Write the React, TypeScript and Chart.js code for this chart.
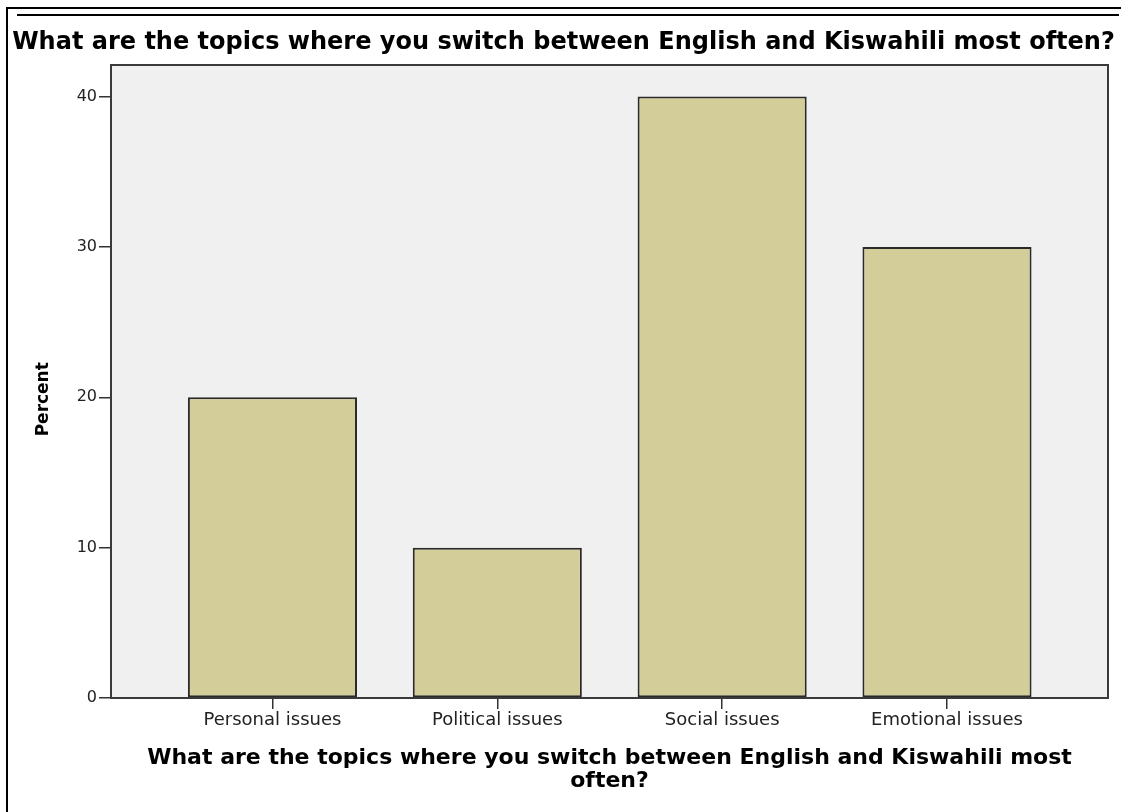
import React, { useEffect, useRef } from "react";
import { Chart, registerables } from "chart.js";

Chart.register(...registerables);

// ---- data ----
const CATEGORIES = ["Personal issues", "Political issues", "Social issues", "Emotional issues"];
const PERCENT = [20, 10, 40, 30];
const Y_TICKS = [0, 10, 20, 30, 40];
const CHART_TITLE = "What are the topics where you switch between English and Kiswahili most often?";
const X_TITLE = ["What are the topics where you switch between English and Kiswahili most", "often?"];
const Y_TITLE = "Percent";

const W = 1121;
const H = 812;

const plotFrame = {
  id: "plotFrame",
  beforeDraw(chart: any) {
    const { ctx, chartArea: a } = chart;
    ctx.save();
    ctx.fillStyle = "#f0f0f0";
    ctx.fillRect(a.left, a.top, a.right - a.left, a.bottom - a.top);
    ctx.restore();
  },
  afterDatasetsDraw(chart: any) {
    const { ctx, chartArea: a } = chart;
    ctx.save();
    ctx.strokeStyle = "#3a3a3a";
    ctx.lineWidth = 2;
    ctx.strokeRect(a.left, a.top, a.right - a.left, a.bottom - a.top);
    ctx.restore();
  },
};

export default function App() {
  const ref = useRef<HTMLCanvasElement | null>(null);

  useEffect(() => {
    if (!ref.current) return;
    const chart = new Chart(ref.current, {
      type: "bar",
      data: {
        datasets: [
          {
            label: Y_TITLE,
            data: PERCENT.map((v, i) => ({ x: i, y: v })),
            backgroundColor: "#d3ce99",
            borderColor: "#2a2a2a",
            borderWidth: 2,
            borderSkipped: false,
            barPercentage: 0.752,
            categoryPercentage: 1,
          },
        ],
      },
      plugins: [plotFrame],
      options: {
        responsive: false,
        animation: false,
        layout: { padding: { left: 6, right: 0, top: 0, bottom: 0 } },
        plugins: {
          legend: { display: false },
          tooltip: { enabled: false },
          title: {
            display: true,
            text: CHART_TITLE,
            color: "#000",
            font: { family: "'DejaVu Sans'", size: 24, weight: "bold", lineHeight: 1.2 },
            padding: { top: 28, bottom: 8.2 },
          },
        },
        scales: {
          x: {
            type: "linear",
            offset: false,
            min: -0.718,
            max: 3.716,
            afterBuildTicks: (s: any) => {
              s.ticks = CATEGORIES.map((_, i) => ({ value: i }));
            },
            afterFit: (s: any) => {
              s.height = 114;
            },
            ticks: {
              callback: (v: any) => CATEGORIES[v] ?? "",
              color: "#222",
              font: { family: "'DejaVu Sans'", size: 18 },
              padding: 1,
              maxRotation: 0,
              autoSkip: false,
            },
            grid: {
              offset: false,
              drawOnChartArea: false,
              drawTicks: true,
              tickLength: 11,
              color: "#333",
              lineWidth: 1.5,
            },
            border: { display: false },
            title: {
              display: true,
              text: X_TITLE,
              color: "#000",
              font: { family: "'DejaVu Sans'", size: 22, weight: "bold", lineHeight: 1.05 },
              padding: { top: 0, bottom: 19.5 },
            },
          },
          y: {
            type: "linear",
            min: 0,
            max: 42.1,
            afterBuildTicks: (s: any) => {
              s.ticks = Y_TICKS.map((v) => ({ value: v }));
            },
            afterFit: (s: any) => {
              s.width = 105;
            },
            ticks: {
              color: "#222",
              font: { family: "'DejaVu Sans'", size: 16 },
              padding: 2,
            },
            grid: {
              drawOnChartArea: false,
              drawTicks: true,
              tickLength: 12,
              color: "#333",
              lineWidth: 1.5,
            },
            border: { display: false },
            title: {
              display: true,
              text: Y_TITLE + "      ",
              color: "#000",
              font: { family: "'DejaVu Sans'", size: 17, weight: "bold", lineHeight: 1.2 },
              padding: { top: 27, bottom: 0 },
            },
          },
          yRight: {
            type: "linear",
            position: "right",
            display: true,
            afterFit: (s: any) => {
              s.width = 13;
            },
            ticks: { display: false },
            grid: { display: false, drawTicks: false },
            border: { display: false },
          },
        },
      },
    } as any);
    return () => chart.destroy();
  }, []);

  return (
    <div style={{ position: "absolute", left: 0, top: 0, width: W, height: H, background: "#fff" }}>
      <canvas ref={ref} width={W} height={H} style={{ display: "block" }} />
      <div style={{ position: "absolute", left: 6, top: 7, width: W - 6, height: 2, background: "#000" }} />
      <div style={{ position: "absolute", left: 6, top: 7, width: 2, height: H - 7, background: "#000" }} />
      <div style={{ position: "absolute", left: 17, top: 14, width: 1102, height: 2, background: "#000" }} />
    </div>
  );
}
